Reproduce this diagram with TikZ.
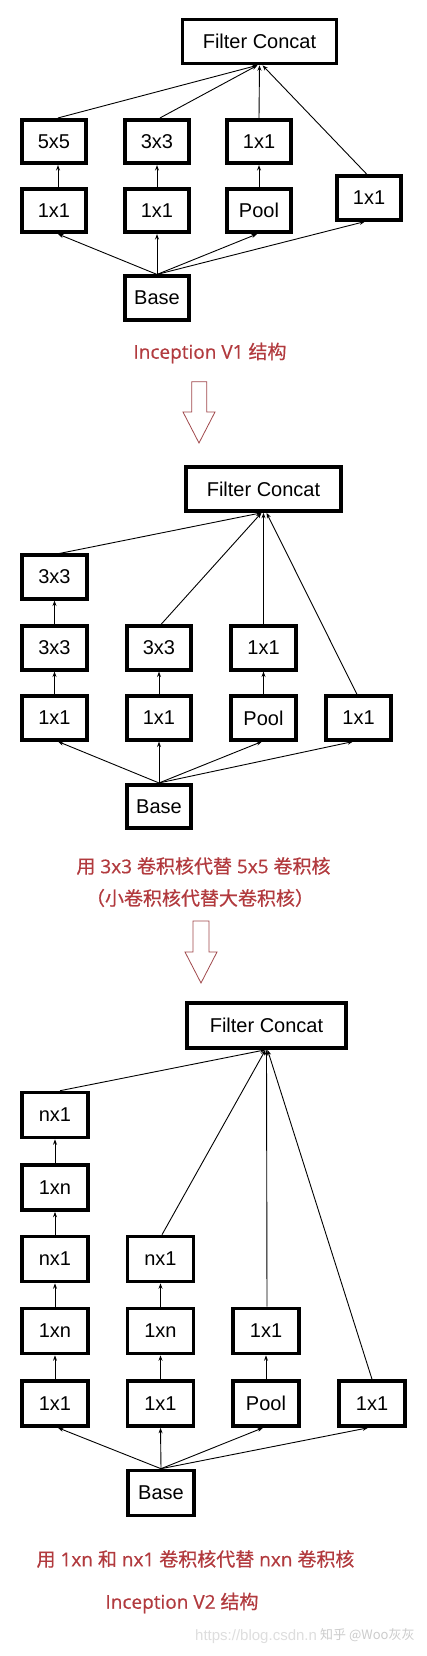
\documentclass[tikz,border=0pt]{standalone}
\usepackage{fontspec}
\setmainfont{Liberation Sans}
\newfontfamily\cjk[FakeBold=0.5]{Noto Sans CJK SC}
\newfontfamily\latcap[FakeBold=0.5]{Open Sans}
\newfontfamily\cjkwm{Noto Sans CJK SC}
\usetikzlibrary{arrows.meta}
\definecolor{capred}{RGB}{178,58,62}
\definecolor{arrred}{RGB}{160,72,76}
\definecolor{wm}{RGB}{222,222,222}
\newcommand{\capmix}[1]{{\latcap #1}}
\tikzset{
  blk/.style={draw, line width=3.6pt, minimum width=64.5pt, minimum height=43.5pt,
    inner sep=0pt, font=\fontsize{20}{20}\selectfont},
  blkc/.style={blk, minimum width=66pt, minimum height=45pt},
  fc/.style={blk, minimum width=154pt, minimum height=44pt},
  con/.style={line width=0.9pt, -{Stealth[length=5.5pt,width=4pt]}},
  captxt/.style={text=capred, inner sep=0pt, font=\cjk\fontsize{19}{19}\selectfont},
  bigarrow/.style={draw=arrred, line width=0.8pt, fill=white, line join=miter}
}
\begin{document}
\begin{tikzpicture}[x=1pt,y=-1pt]
\useasboundingbox[fill=white] (0,0) rectangle (426,1656);

% ---------- Section 1 ----------
\node[fc] (fc1) at (259.5,41.5) {Filter Concat};
\node[blk] (a1) at (54,141.5) {5x5};
\node[blk] (a2) at (157,141.5) {3x3};
\node[blk] (a3) at (259,141.5) {1x1};
\node[blk] (b1) at (54,210.5) {1x1};
\node[blk] (b2) at (157,210.5) {1x1};
\node[blk] (b3) at (259,210.5) {Pool};
\node[blk] (c4) at (369,198) {1x1};
\node[blk] (base1) at (157,298) {Base};

\draw[con] ([xshift=4pt]a1.north) -- ([xshift=-2pt]fc1.south);
\draw[con] ([xshift=3pt]a2.north) -- ([xshift=-2pt]fc1.south);
\draw[con] (a3.north) -- (fc1.south);
\draw[con] ([xshift=-2pt]c4.north) -- ([xshift=3pt]fc1.south);
\draw[con] ([xshift=4pt]b1.north) -- ([xshift=4pt]a1.south);
\draw[con] (b2.north) -- (a2.south);
\draw[con] (b3.north) -- (a3.south);
\draw[con] (base1.north) -- ([xshift=4pt]b1.south);
\draw[con] (base1.north) -- (b2.south);
\draw[con] (base1.north) -- ([xshift=-2pt]b3.south);
\draw[con] (base1.north) -- ([xshift=-4pt]c4.south);

\node[captxt] (cap1) at (210,353) {\capmix{Inception V1 }结构};

\draw[bigarrow] (191.7,381.7) -- (206.7,381.7) -- (206.7,412) -- (215,412)
  -- (199,443) -- (183,412) -- (191.7,412) -- cycle;

% ---------- Section 2 ----------
\node[fc, minimum width=155pt] (fc2) at (263.5,489) {Filter Concat};
\node[blk] (d1) at (54.5,577) {3x3};
\node[blk] (e1) at (54.5,648) {3x3};
\node[blk] (e2) at (159,648) {3x3};
\node[blk] (e3) at (263.5,648) {1x1};
\node[blk] (f1) at (54.5,718) {1x1};
\node[blk] (f2) at (159,718) {1x1};
\node[blk] (f3) at (263.5,718) {Pool};
\node[blk] (f4) at (358.5,718) {1x1};
\node[blk] (base2) at (159,806.5) {Base};

\draw[con] ([xshift=5pt]d1.north) -- ([xshift=-2pt]fc2.south);
\draw[con] ([xshift=2pt]e2.north) -- ([xshift=-2pt]fc2.south);
\draw[con] (e3.north) -- (fc2.south);
\draw[con] ([xshift=-1.5pt]f4.north) -- ([xshift=3pt]fc2.south);
\draw[con] (e1.north) -- (d1.south);
\draw[con] (f1.north) -- (e1.south);
\draw[con] (f2.north) -- (e2.south);
\draw[con] (f3.north) -- (e3.south);
\draw[con] (base2.north) -- ([xshift=3.5pt]f1.south);
\draw[con] (base2.north) -- (f2.south);
\draw[con] (base2.north) -- ([xshift=-1.5pt]f3.south);
\draw[con] (base2.north) -- ([xshift=-5.5pt]f4.south);

\node[captxt] (cap2a) at (203.5,866) {用\capmix{ 3x3 }卷积核代替\capmix{ 5x5 }卷积核};
\node[captxt] (cap2b) at (200,898) {（小卷积核代替大卷积核）};

\draw[bigarrow] (193,921) -- (209,921) -- (209,952) -- (217,952)
  -- (201,983) -- (185,952) -- (193,952) -- cycle;

% ---------- Section 3 ----------
\node[fc, minimum width=159pt, minimum height=45pt] (fc3) at (266.5,1025.5) {Filter Concat};
\node[blkc] (g1) at (55,1115) {nx1};
\node[blkc] (h1) at (55,1187.5) {1xn};
\node[blkc] (i1) at (55,1259) {nx1};
\node[blkc] (i2) at (160.5,1259) {nx1};
\node[blkc] (j1) at (55,1331) {1xn};
\node[blkc] (j2) at (160.5,1331) {1xn};
\node[blkc] (j3) at (266,1331) {1x1};
\node[blkc] (k1) at (55,1403.5) {1x1};
\node[blkc] (k2) at (160.5,1403.5) {1x1};
\node[blkc] (k3) at (266,1403.5) {Pool};
\node[blkc] (k4) at (372,1403.5) {1x1};
\node[blkc] (base3) at (161,1493) {Base};

\draw[con] ([xshift=5pt]g1.north) -- ([xshift=-1pt]fc3.south);
\draw[con] ([xshift=1.5pt]i2.north) -- ([xshift=-1pt]fc3.south);
\draw[con] ([xshift=1pt]j3.north) -- (fc3.south);
\draw[con] (k4.north) -- ([xshift=1pt]fc3.south);
\draw[con] (h1.north) -- (g1.south);
\draw[con] (i1.north) -- (h1.south);
\draw[con] (j1.north) -- (i1.south);
\draw[con] (k1.north) -- (j1.south);
\draw[con] (j2.north) -- (i2.south);
\draw[con] (k2.north) -- (j2.south);
\draw[con] (k3.north) -- (j3.south);
\draw[con] (base3.north) -- ([xshift=3pt]k1.south);
\draw[con] (base3.north) -- (k2.south);
\draw[con] (base3.north) -- ([xshift=-3pt]k3.south);
\draw[con] (base3.north) -- ([xshift=-4pt]k4.south);

\node[captxt] (cap3a) at (195.5,1559) {用\capmix{ 1xn }和\capmix{ nx1 }卷积核代替\capmix{ nxn }卷积核};
\node[captxt] (cap3b) at (182,1603) {\capmix{Inception V2 }结构};

% watermark
\node[text=wm, inner sep=0pt, font=\fontsize{15}{15}\selectfont, anchor=west] (wm1) at (195,1637) {https://blog.csdn.n};
\node[text=gray!40, inner sep=0pt, font=\cjkwm\fontsize{13}{13}\selectfont, anchor=west] (wm2) at (320,1635) {知乎 @Woo灰灰};
\end{tikzpicture}
\end{document}
